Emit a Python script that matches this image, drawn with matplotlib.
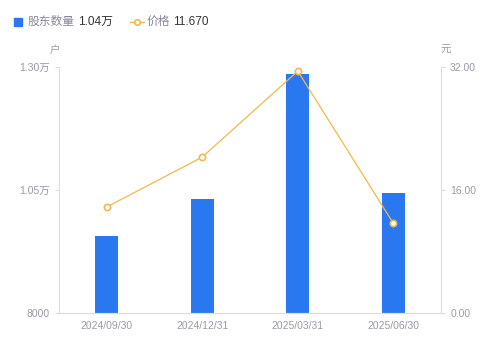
import matplotlib
matplotlib.use("Agg")
import matplotlib.pyplot as plt
from matplotlib.lines import Line2D

plt.rcParams['font.family'] = ['Liberation Sans', 'Noto Sans CJK SC', 'DejaVu Sans']

dates = ["2024/09/30", "2024/12/31", "2025/03/31", "2025/06/30"]
holders = [9565, 10317, 12858, 10439]
prices = [13.79, 20.29, 31.48, 11.67]
left_ticks = [8000, 10500, 13000]
left_labels = ["8000", "1.05万", "1.30万"]
right_ticks = [0, 16, 32]
right_labels = ["0.00", "16.00", "32.00"]

bar_color = "#2a78f0"
line_color = "#f2b84b"
grid_color = "#dddddd"
text_color = "#9a9aa8"

fig = plt.figure(figsize=(4.99, 3.46), dpi=100)
ax = fig.add_axes([0.118, 0.0954, 0.766, 0.7106])
x = list(range(len(dates)))
ax.bar(x, holders, width=0.24, color=bar_color, zorder=2)
ax.set_ylim(8000, 13000)
ax.set_xlim(-0.5, 3.5)
ax.set_yticks(left_ticks)
ax.set_yticklabels(left_labels)
ax.set_xticks(x)
ax.set_xticklabels(dates)

ax2 = ax.twinx()
ax2.plot(x, prices, color=line_color, lw=0.9, marker="o", ms=4.5,
         mfc="white", mec=line_color, mew=1.2, zorder=3)
ax2.set_ylim(0, 32)
ax2.set_yticks(right_ticks)
ax2.set_yticklabels(right_labels)

for a in (ax, ax2):
    a.spines["top"].set_visible(False)
    for s in ("left", "right", "bottom"):
        a.spines[s].set_color(grid_color)
        a.spines[s].set_linewidth(0.8)
    a.tick_params(colors=grid_color, labelcolor=text_color, labelsize=7.5, length=3, width=0.8)
ax.tick_params(axis="x", length=0, pad=6)
ax2.spines["left"].set_visible(False)
ax.spines["right"].set_visible(False)

fig.text(55 / 499, 1 - 50 / 346, "户", color=text_color, fontsize=7.5, ha="center", va="center")
fig.text(446 / 499, 1 - 50 / 346, "元", color=text_color, fontsize=7.5, ha="center", va="center")

# legend row
fig.add_artist(plt.Rectangle((14 / 499, 1 - 26 / 346), 8 / 499, 8 / 346,
                             transform=fig.transFigure, color=bar_color))
fig.text(28 / 499, 1 - 22 / 346, "股东数量", color="#888899", fontsize=8.5, va="center")
fig.text(78 / 499, 1 - 22 / 346, "1.04万", color="#333333", fontsize=8.5, va="center")
fig.add_artist(Line2D([130 / 499, 144 / 499], [1 - 22 / 346, 1 - 22 / 346],
                      transform=fig.transFigure, color=line_color, lw=1))
fig.add_artist(Line2D([137 / 499], [1 - 22 / 346], transform=fig.transFigure,
                      marker="o", ms=4, mfc="white", mec=line_color, mew=1.2))
fig.text(147 / 499, 1 - 22 / 346, "价格", color="#888899", fontsize=8.5, va="center")
fig.text(173 / 499, 1 - 22 / 346, "11.670", color="#333333", fontsize=8.5, va="center")

fig.savefig("out.png", dpi=100)
